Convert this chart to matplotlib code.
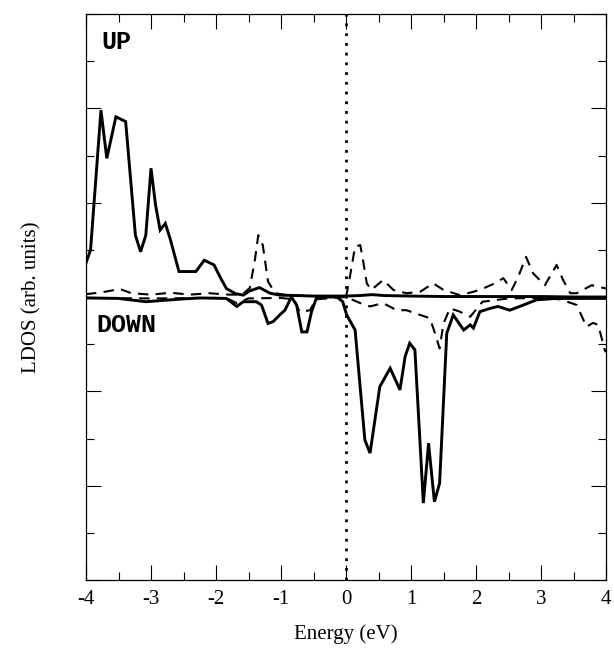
import matplotlib
matplotlib.use("Agg")
import matplotlib.pyplot as plt
from matplotlib.ticker import MultipleLocator

# ---- data ----
up_solid_x = [-4.00, -3.93, -3.77, -3.68, -3.54, -3.39, -3.24, -3.16, -3.08, -3.00, -2.93, -2.86,
              -2.78, -2.70, -2.57, -2.47, -2.31, -2.18, -2.03, -1.94, -1.84, -1.70, -1.58, -1.48,
              -1.33, -1.17, -1.02, -0.50, 0.00, 0.20, 0.40, 0.60, 1.00, 1.50, 2.00, 2.50, 3.00,
              3.50, 4.00]
up_solid_y = [0.72, 1.00, 3.96, 2.94, 3.82, 3.72, 1.31, 0.96, 1.31, 2.73, 1.95, 1.42,
              1.56, 1.21, 0.54, 0.54, 0.54, 0.78, 0.68, 0.43, 0.18, 0.07, 0.04, 0.13,
              0.20, 0.08, 0.04, 0.02, 0.02, 0.03, 0.05, 0.03, 0.02, 0.01, 0.01, 0.01, 0.01,
              0.00, 0.00]

up_dash_x = [-4.00, -3.75, -3.48, -3.30, -3.00, -2.70, -2.40, -2.10, -1.80, -1.60, -1.48, -1.40,
             -1.35, -1.28, -1.20, -1.09, -0.90, -0.50, -0.10, 0.00, 0.06, 0.14, 0.22, 0.27,
             0.32, 0.39, 0.57, 0.73, 0.93, 1.14, 1.34, 1.50, 1.75, 1.96, 2.11, 2.29, 2.42,
             2.55, 2.65, 2.77, 2.88, 3.06, 3.24, 3.34, 3.45, 3.55, 3.78, 4.00]
up_dash_y = [0.06, 0.10, 0.17, 0.08, 0.05, 0.09, 0.05, 0.08, 0.05, 0.05, 0.19, 0.80,
             1.31, 1.10, 0.33, 0.08, 0.04, 0.02, 0.02, 0.00, 0.43, 1.07, 1.10, 0.71,
             0.29, 0.15, 0.36, 0.15, 0.08, 0.11, 0.29, 0.15, 0.04, 0.11, 0.18, 0.29, 0.40,
             0.15, 0.43, 0.85, 0.50, 0.25, 0.68, 0.36, 0.08, 0.08, 0.25, 0.18]

down_solid_x = [-4.00, -3.50, -3.08, -2.50, -2.25, -1.84, -1.68, -1.58, -1.38, -1.30, -1.20, -1.12,
                -1.02, -0.94, -0.84, -0.76, -0.68, -0.60, -0.53, -0.45, -0.14, -0.05, 0.01, 0.14,
                0.29, 0.37, 0.52, 0.68, 0.83, 0.91, 0.98, 1.06, 1.19, 1.27, 1.36, 1.44, 1.55,
                1.65, 1.81, 1.91, 1.96, 2.06, 2.22, 2.34, 2.52, 2.73, 2.93, 3.24, 3.60, 4.00]
down_solid_y = [-0.02, -0.03, -0.10, -0.04, -0.02, -0.03, -0.20, -0.10, -0.10, -0.17, -0.56, -0.52,
                -0.38, -0.28, 0.00, -0.17, -0.74, -0.74, -0.31, 0.00, 0.00, -0.10, -0.38, -0.70,
                -3.03, -3.31, -1.90, -1.51, -1.97, -1.26, -0.98, -1.12, -4.37, -3.10, -4.34, -3.95, -0.77,
                -0.38, -0.70, -0.59, -0.66, -0.31, -0.24, -0.20, -0.28, -0.17, -0.06, -0.03, -0.03, -0.03]

down_dash_x = [-4.00, -3.00, -2.00, -1.80, -1.68, -1.50, -1.00, -0.80, -0.71, -0.55, -0.47, -0.20,
               0.00, 0.22, 0.37, 0.57, 0.78, 0.93, 1.14, 1.29, 1.37, 1.44, 1.50, 1.60, 1.75,
               1.91, 2.10, 2.50, 3.00, 3.30, 3.55, 3.70, 3.80, 3.88, 3.98, 4.00]
down_dash_y = [-0.02, -0.03, -0.02, -0.05, -0.13, -0.03, -0.02, -0.05, -0.32, -0.28, -0.05, -0.02,
               0.00, -0.13, -0.20, -0.13, -0.28, -0.28, -0.38, -0.45, -0.77, -1.09, -0.56, -0.24, -0.31,
               -0.42, -0.10, -0.03, -0.02, -0.05, -0.17, -0.63, -0.55, -0.59, -1.12, -1.17]

x_ticks = [-4, -3, -2, -1, 0, 1, 2, 3, 4]
x_tick_labels = ["-4", "-3", "-2", "-1", "0", "1", "2", "3", "4"]

# ---- figure ----
fig = plt.figure(figsize=(6.14, 6.56), dpi=100)
ax = fig.add_axes([86 / 614, 1 - 580 / 656, 520 / 614, 566 / 656])

ax.plot(up_solid_x, up_solid_y, color="black", lw=2.1, solid_joinstyle="miter")
ax.plot(down_solid_x, down_solid_y, color="black", lw=2.1, solid_joinstyle="miter")
ax.plot(up_dash_x, up_dash_y, color="black", lw=1.5, ls=(0, (5, 3.5)))
ax.plot(down_dash_x, down_dash_y, color="black", lw=1.5, ls=(0, (5, 3.5)))
ax.axvline(0, color="black", lw=2.0, ls=(0, (1, 2.5)))

ax.set_xlim(-4, 4)
ax.set_ylim(-6, 6)
ax.set_xticks(x_ticks)
ax.set_xticklabels(x_tick_labels, fontfamily="Liberation Serif", fontsize=15)
ax.xaxis.set_minor_locator(MultipleLocator(0.5))
ax.yaxis.set_major_locator(MultipleLocator(2))
ax.yaxis.set_minor_locator(MultipleLocator(1))
ax.set_yticklabels([])
ax.tick_params(which="major", direction="in", length=11, width=0.8,
               top=True, right=True, pad=7)
ax.tick_params(which="minor", direction="in", length=5.5, width=0.8,
               top=True, right=True)
for s in ax.spines.values():
    s.set_linewidth(0.9)

ax.text(-3.76, 5.4, "UP", fontfamily="Liberation Mono", fontweight="bold",
        fontsize=18, va="center", ha="left")
ax.text(-3.84, -0.6, "DOWN", fontfamily="Liberation Mono", fontweight="bold",
        fontsize=18, va="center", ha="left")

fig.text(346 / 614, 1 - 634 / 656, "Energy (eV)", fontfamily="Liberation Serif",
         fontsize=15, ha="center", va="center")
fig.text(32 / 614, 1 - 297 / 656, "LDOS (arb. units)", fontfamily="Liberation Serif",
         fontsize=15, ha="center", va="center", rotation=90)

fig.savefig("out.png", dpi=100)
